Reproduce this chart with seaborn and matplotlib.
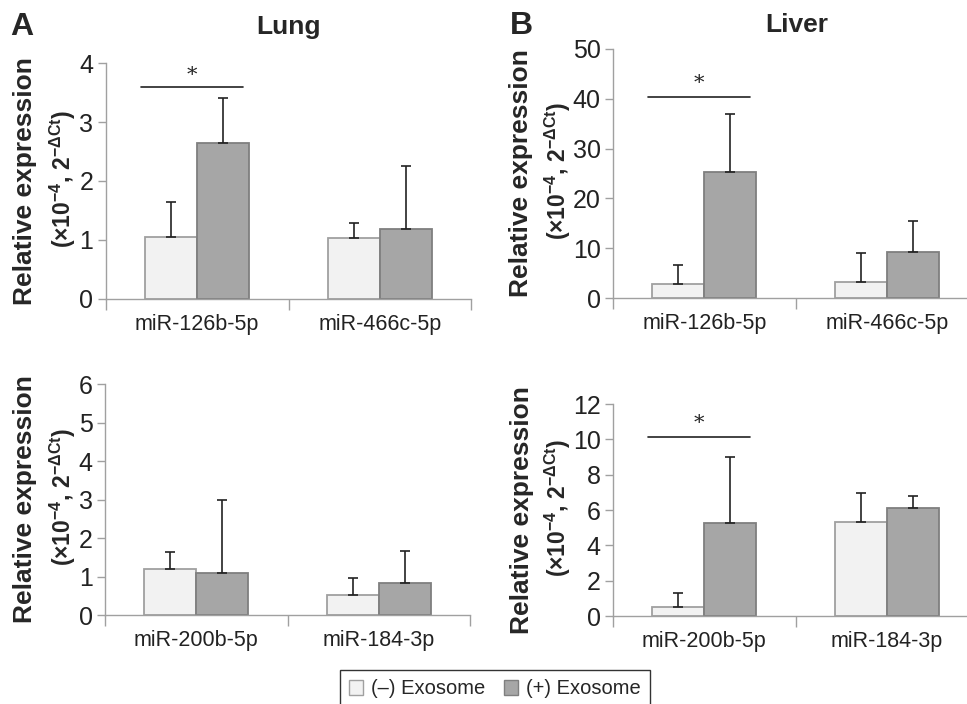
import matplotlib
matplotlib.use('Agg')
import numpy as np
import pandas as pd
import matplotlib.pyplot as plt
import seaborn as sns
from matplotlib.patches import Patch

# miRNA names per row
top_mirs = ['miR-126b-5p', 'miR-466c-5p']
bottom_mirs = ['miR-200b-5p', 'miR-184-3p']
groups = ['(\u2013) Exosome', '(+) Exosome']

# Lung, top row
lung_top_neg = [1.05, 1.03]
lung_top_neg_err = [0.60, 0.25]
lung_top_pos = [2.65, 1.19]
lung_top_pos_err = [0.75, 1.07]

# Liver, top row
liver_top_neg = [2.9, 3.3]
liver_top_neg_err = [3.7, 5.7]
liver_top_pos = [25.4, 9.2]
liver_top_pos_err = [11.6, 6.3]

# Lung, bottom row
lung_bot_neg = [1.19, 0.51]
lung_bot_neg_err = [0.44, 0.44]
lung_bot_pos = [1.08, 0.83]
lung_bot_pos_err = [1.90, 0.82]

# Liver, bottom row
liver_bot_neg = [0.51, 5.34]
liver_bot_neg_err = [0.82, 1.63]
liver_bot_pos = [5.26, 6.13]
liver_bot_pos_err = [3.75, 0.67]

light = '#f2f2f2'
dark = '#a6a6a6'
light_edge = '#a0a0a0'
dark_edge = '#7f7f7f'
axis_grey = '#a0a0a0'

sns.set_theme(style='ticks')
plt.rcParams['font.family'] = ['Liberation Sans', 'DejaVu Sans']
plt.rcParams['mathtext.fontset'] = 'custom'
plt.rcParams['mathtext.rm'] = 'Liberation Sans'
plt.rcParams['mathtext.default'] = 'regular'

fig = plt.figure(figsize=(9.67, 7.04), dpi=100)

ylabel_1 = 'Relative expression'
ylabel_2 = '(\u00d710$^{-4}$, 2$^{-\u0394Ct}$)'


def draw_panel(rect, mirs, neg, neg_err, pos, pos_err, ymax, ystep, label_x, sig=None):
    ax = fig.add_axes(rect)
    df = pd.DataFrame({
        'mir': mirs * 2,
        'group': [groups[0]] * len(mirs) + [groups[1]] * len(mirs),
        'value': neg + pos,
    })
    sns.barplot(data=df, x='mir', y='value', hue='group', order=mirs,
                hue_order=groups, palette=[light, dark], width=0.57,
                errorbar=None, legend=False, ax=ax, saturation=1)
    for cont, edge, err in zip(ax.containers, [light_edge, dark_edge], [neg_err, pos_err]):
        xs, ys = [], []
        for p in cont:
            p.set_edgecolor(edge)
            p.set_linewidth(1.3)
            xs.append(p.get_x() + p.get_width() / 2)
            ys.append(p.get_height())
        ax.errorbar(xs, ys, yerr=[np.zeros(len(err)), err], fmt='none',
                    ecolor='#222222', elinewidth=1.2, capsize=3.5, capthick=1.2)
    ax.set_xlim(-0.5, 1.5)
    ax.set_ylim(0, ymax)
    ax.set_yticks(np.arange(0, ymax + 0.01, ystep))
    ax.set_xticks([0, 1])
    ax.set_xticks([-0.5, 0.5, 1.5], minor=True)
    ax.set_xlabel('')
    ax.set_ylabel('')
    # two-line y label, second line a bit smaller
    ax.text(label_x[0], 0.5, ylabel_1, transform=ax.transAxes, rotation=90,
            ha='center', va='center', fontsize=19, fontweight='bold')
    ax.text(label_x[1], 0.51, ylabel_2, transform=ax.transAxes, rotation=90,
            ha='center', va='center', fontsize=16.5, fontweight='bold')
    ax.tick_params(axis='y', direction='out', length=6, width=1, color=axis_grey,
                   labelsize=18, pad=3, labelcolor='#222222')
    ax.tick_params(axis='x', which='major', length=0, labelsize=15.5, pad=11,
                   labelcolor='#222222')
    ax.tick_params(axis='x', which='minor', direction='out', length=8, width=1,
                   color=axis_grey)
    sns.despine(ax=ax)
    for s in ['left', 'bottom']:
        ax.spines[s].set_color(axis_grey)
        ax.spines[s].set_linewidth(1)
    if sig is not None:
        line_y, star_y = sig
        ax.plot([-0.31, 0.25], [line_y, line_y], color='#222222', lw=1.2)
        ax.text(-0.03, star_y, '*', ha='center', va='center', fontsize=15,
                family='DejaVu Serif', color='#222222')
    return ax


draw_panel([0.1096, 0.5753, 0.3775, 0.3352], top_mirs, lung_top_neg, lung_top_neg_err,
           lung_top_pos, lung_top_pos_err, 4, 1, (-0.222, -0.119), sig=(3.59, 3.78))
draw_panel([0.634, 0.5767, 0.3775, 0.3537], top_mirs, liver_top_neg, liver_top_neg_err,
           liver_top_pos, liver_top_pos_err, 50, 10, (-0.252, -0.152), sig=(40.4, 43.0))
draw_panel([0.1086, 0.1264, 0.3775, 0.3281], bottom_mirs, lung_bot_neg, lung_bot_neg_err,
           lung_bot_pos, lung_bot_pos_err, 6, 1, (-0.219, -0.116))
draw_panel([0.634, 0.125, 0.3775, 0.3011], bottom_mirs, liver_bot_neg, liver_bot_neg_err,
           liver_bot_pos, liver_bot_pos_err, 12, 2, (-0.249, -0.152), sig=(10.13, 10.9))

# panel titles and letters
fig.text(288 / 967, 1 - 27 / 704, 'Lung', ha='center', va='center', fontsize=19, fontweight='bold')
fig.text(797 / 967, 1 - 25 / 704, 'Liver', ha='center', va='center', fontsize=19, fontweight='bold')
fig.text(10 / 967, 1 - 27 / 704, 'A', ha='left', va='center', fontsize=23, fontweight='bold')
fig.text(510 / 967, 1 - 26 / 704, 'B', ha='left', va='center', fontsize=23, fontweight='bold')

handles = [Patch(facecolor=light, edgecolor=light_edge, lw=1),
           Patch(facecolor=dark, edgecolor=dark_edge, lw=1)]
leg = fig.legend(handles, groups, loc='center', bbox_to_anchor=(495 / 967, 1 - 689 / 704),
                 ncol=2, fontsize=14.5, frameon=True, fancybox=False, handlelength=0.7,
                 handleheight=0.7, handletextpad=0.4, columnspacing=0.9,
                 borderpad=0.45, borderaxespad=0)
leg.get_frame().set_edgecolor('black')
leg.get_frame().set_linewidth(1)

fig.savefig('out.png', dpi=100)
